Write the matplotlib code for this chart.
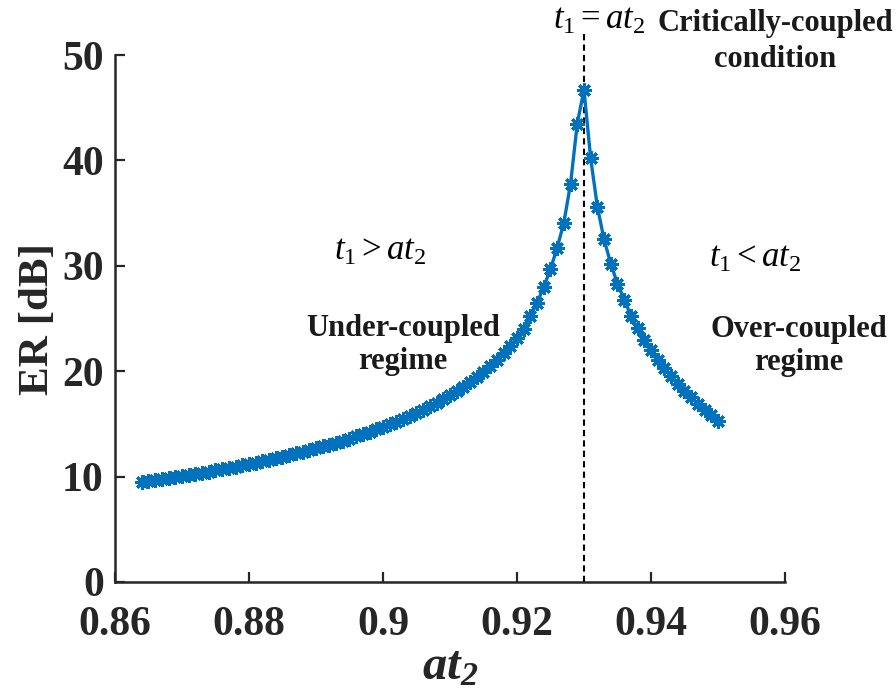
import matplotlib.pyplot as plt

plt.rcParams['font.family'] = 'Liberation Serif'
plt.rcParams['mathtext.fontset'] = 'custom'
plt.rcParams['mathtext.rm'] = 'Liberation Serif'
plt.rcParams['mathtext.it'] = 'Liberation Serif:italic'
plt.rcParams['mathtext.bf'] = 'Liberation Serif:bold'
plt.rcParams['mathtext.bfit'] = 'Liberation Serif:italic:bold'

# at2 sweep (step 0.001) and extinction ratio in dB
at2 = [0.864, 0.865, 0.866, 0.867, 0.868, 0.869, 0.870, 0.871, 0.872, 0.873,
       0.874, 0.875, 0.876, 0.877, 0.878, 0.879, 0.880, 0.881, 0.882, 0.883,
       0.884, 0.885, 0.886, 0.887, 0.888, 0.889, 0.890, 0.891, 0.892, 0.893,
       0.894, 0.895, 0.896, 0.897, 0.898, 0.899, 0.900, 0.901, 0.902, 0.903,
       0.904, 0.905, 0.906, 0.907, 0.908, 0.909, 0.910, 0.911, 0.912, 0.913,
       0.914, 0.915, 0.916, 0.917, 0.918, 0.919, 0.920, 0.921, 0.922, 0.923,
       0.924, 0.925, 0.926, 0.927, 0.928, 0.929, 0.930, 0.931, 0.932, 0.933,
       0.934, 0.935, 0.936, 0.937, 0.938, 0.939, 0.940, 0.941, 0.942, 0.943,
       0.944, 0.945, 0.946, 0.947, 0.948, 0.949, 0.950]
er_db = [9.48, 9.57, 9.66, 9.76, 9.85, 9.95, 10.05, 10.16, 10.26, 10.37,
         10.48, 10.59, 10.71, 10.83, 10.95, 11.08, 11.20, 11.33, 11.47, 11.61,
         11.75, 11.89, 12.04, 12.20, 12.35, 12.52, 12.68, 12.86, 13.04, 13.22,
         13.41, 13.61, 13.81, 14.02, 14.24, 14.47, 14.70, 14.95, 15.20, 15.47,
         15.74, 16.03, 16.34, 16.66, 16.99, 17.34, 17.71, 18.11, 18.52, 18.97,
         19.44, 19.95, 20.49, 21.08, 21.72, 22.42, 23.19, 24.05, 25.2, 26.5,
         28.0, 29.7, 31.7, 34.1, 37.8, 43.5, 46.7, 40.2, 35.6, 32.5,
         30.2, 28.3, 26.8, 25.28, 24.06, 22.97, 21.99, 21.10, 20.28, 19.52,
         18.81, 18.14, 17.52, 16.92, 16.36, 15.82, 15.31]

t1 = 0.93
xticks = [0.86, 0.88, 0.9, 0.92, 0.94, 0.96]
xtick_labels = ['0.86', '0.88', '0.9', '0.92', '0.94', '0.96']
yticks = [0, 10, 20, 30, 40, 50]

axis_color = '#262626'
text_color = '#1a1a1a'
blue = '#0072BD'

fig = plt.figure(figsize=(8.96, 6.94), dpi=100)
ax = fig.add_axes([0.1283, 0.1614, 0.7478, 0.7593])

ax.plot(at2, er_db, color=blue, linewidth=2.4, marker=(8, 2, 0),
        markersize=10.5, markeredgewidth=2.2, zorder=3)
ax.vlines(t1, 0, 52.3, colors='black', linestyles=(0, (3, 2)),
          linewidth=1.5, clip_on=False, zorder=2)

ax.set_xlim(0.86, 0.96)
ax.set_ylim(0, 50)
ax.set_xticks(xticks)
ax.set_xticklabels(xtick_labels)
ax.set_yticks(yticks)

ax.spines['top'].set_visible(False)
ax.spines['right'].set_visible(False)
for s in ('left', 'bottom'):
    ax.spines[s].set_linewidth(1.8)
    ax.spines[s].set_color(axis_color)
ax.tick_params(direction='in', length=7, width=1.6, color=axis_color,
               labelcolor=axis_color, labelsize=30)
ax.tick_params(axis='x', pad=17)
ax.tick_params(axis='y', pad=8)
for lbl in ax.get_xticklabels() + ax.get_yticklabels():
    lbl.set_fontweight('bold')

ax.set_ylabel('ER [dB]', fontsize=31, fontweight='bold', color=axis_color,
              labelpad=4)
ax.set_xlabel(r'$\mathbfit{at}_{\mathbfit{2}}$', fontsize=35, color=axis_color,
              labelpad=1)

# regime annotations
ax.text(0.9322, 53.3, r'$t_1 = at_2$', fontsize=25, ha='center', va='center')
ax.text(0.9585, 51.3, 'Critically-coupled\ncondition', fontsize=22,
        fontweight='bold', ha='center', va='center', linespacing=1.3,
        color=text_color)
ax.text(0.8995, 31.4, r'$t_1 > at_2$', fontsize=25, ha='center', va='center')
ax.text(0.9030, 22.5, 'Under-coupled\nregime', fontsize=22, fontweight='bold',
        ha='center', va='center', linespacing=1.2, color=text_color)
ax.text(0.9556, 30.7, r'$t_1 < at_2$', fontsize=25, ha='center', va='center')
ax.text(0.9620, 22.4, 'Over-coupled\nregime', fontsize=22, fontweight='bold',
        ha='center', va='center', linespacing=1.2, color=text_color)

fig.savefig('out.png', dpi=100)
